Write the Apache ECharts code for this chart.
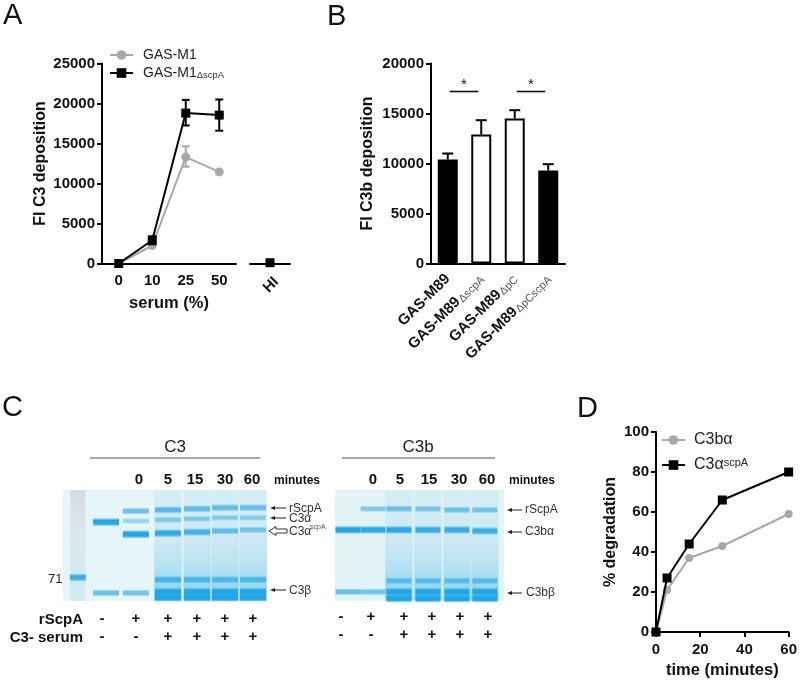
<!DOCTYPE html>
<html><head><meta charset="utf-8">
<style>html,body{margin:0;padding:0;background:#fff}#c{width:800px;height:682px}</style>
<script src="https://cdn.jsdelivr.net/npm/echarts@6/dist/echarts.min.js"></script>
</head><body><div id="c"></div>
<script>
// Panel A
const aCategories = ['0','10','25','50'];
const aHiCategories = ['HI'];
const aM1 = [0,2250,13300,11450];
const aMutant = [0,2900,18800,18550];
const aM1Err = [[2,12100,14650]];
const aMutantErr = [[1,2400,3400],[2,17250,20450],[3,16600,20500]];
const aMutantHi = [100];
const aM1Name = 'GAS-M1';
const aMutantName = 'GAS-M1ΔscpA';
// Panel B
const bStrains = [['GAS-M89',''],['GAS-M89','ΔscpA'],['GAS-M89','ΔpC'],['GAS-M89','ΔpCscpA']];
const bValues = [10400,12900,14500,9300];
const bErrTop = [11000,14330,15330,9930];
const bFilled = [true,false,false,true];
const bSig = [[0,1,17200],[2,3,17200]];
// Panel D
const dC3b = [[0,0],[5,21],[15,37],[30,43],[60,59]];
const dC3a = [[0,0],[5,27],[15,44],[30,66],[60,80]];
// Gels: [lane, migration, intensity]
const c3Marker = [[0.51,1]];
const c3MarkerBands = [[0.51,79,.85]];
const c3Smear = [[3.6,1],[4.6,1],[5.56,1],[6.52,1]];
const c3bSmear = [[2.27,1],[3.3,1],[4.33,1],[5.32,1]];
const c3Bands = [
 [1.48,29,1],[1.48,93,.6],
 [2.5,19,.6],[2.5,28,.32],[2.5,40,1],[2.5,93,.55],
 [3.6,18,.68],[3.6,27,.42],[3.6,39,.9],[3.6,81,.7],[3.6,92,1],[3.6,97,1],
 [4.6,17,.62],[4.6,26,.42],[4.6,38,.78],[4.6,81,.68],[4.6,92,1],[4.6,97,1],
 [5.56,16,.62],[5.56,25,.4],[5.56,37,.6],[5.56,81,.65],[5.56,92,1],[5.56,97,1],
 [6.52,16,.6],[6.52,25,.36],[6.52,36,.52],[6.52,81,.65],[6.52,92,1],[6.52,97,1]
];
const c3bBands = [
 [0.46,36,1],[0.46,92,.6],
 [1.35,17,.48],[1.35,36,.95],[1.35,92,.55],
 [2.27,17,.55],[2.27,36,.95],[2.27,82,.55],[2.27,92,1],[2.27,98,1],
 [3.3,17,.5],[3.3,36,.9],[3.3,82,.55],[3.3,92,1],[3.3,98,1],
 [4.33,18,.55],[4.33,36,.9],[4.33,82,.55],[4.33,92,1],[4.33,98,1],
 [5.32,18,.52],[5.32,37,.85],[5.32,82,.55],[5.32,92,1],[5.32,98,1]
];
const minuteLabels = ['0','5','15','30','60'];
const rowRScpAC3 = ['-','+','+','+','+','+'];
const rowSerumC3 = ['-','-','+','+','+','+'];

const FONT = '"Liberation Sans", Arial, sans-serif';
const GRAY = '#a8a8a8';
const tick = {fontFamily:FONT,fontWeight:'bold',fontSize:15,color:'#111'};
const nameS = {fontFamily:FONT,fontWeight:'bold',fontSize:16,color:'#111'};
const nameX = {fontFamily:FONT,fontWeight:'bold',fontSize:16.5,color:'#111'};
const aLine = {lineStyle:{color:'#000',width:2}};
const aTick = {length:5,lineStyle:{color:'#000',width:2}};
const plain = v=>String(v);

function errItem(capW, color){
  return function(p, api){
    const x = api.value(0), lo = api.coord([x, api.value(1)]), hi = api.coord([x, api.value(2)]);
    const s = {stroke:color, lineWidth:2, fill:null};
    const l = (a,b,c,d)=>({type:'line',shape:{x1:a,y1:b,x2:c,y2:d},style:s});
    return {type:'group',children:[
      l(lo[0],lo[1],hi[0],hi[1]),
      l(lo[0]-capW,hi[1],lo[0]+capW,hi[1]),
      l(lo[0]-capW,lo[1],lo[0]+capW,lo[1])
    ]};
  };
}
function errTopItem(capW){
  return function(p, api){
    const x = api.value(0), lo = api.coord([x, api.value(1)]), hi = api.coord([x, api.value(2)]);
    const s = {stroke:'#000', lineWidth:2, fill:null};
    return {type:'group',children:[
      {type:'line',shape:{x1:lo[0],y1:lo[1],x2:hi[0],y2:hi[1]},style:s},
      {type:'line',shape:{x1:lo[0]-capW,y1:hi[1],x2:lo[0]+capW,y2:hi[1]},style:s}
    ]};
  };
}
function sigItem(p, api){
  const a = api.coord([api.value(0), api.value(2)]), b = api.coord([api.value(1), api.value(2)]);
  const x1 = a[0]+2, x2 = b[0]-3;
  return {type:'group',children:[
    {type:'line',shape:{x1:x1,y1:a[1],x2:x2,y2:a[1]},style:{stroke:'#111',lineWidth:1.6}},
    {type:'text',style:{x:(x1+x2)/2,y:a[1]+1,text:'*',fontFamily:FONT,fontSize:15,fill:'#111',textAlign:'center',textVerticalAlign:'bottom'}}
  ]};
}
function makeBand(w){
  return function(p, api){
    const c = api.coord([api.value(0), api.value(1)]);
    const v = api.value(2);
    const h = 5 + v*4;
    const a = 0.12+0.83*v;
    const col = 'rgba(28,163,228,'+a+')', edge = 'rgba(28,163,228,0)';
    return {type:'rect',shape:{x:c[0]-w/2,y:c[1]-h/2,width:w,height:h},
      style:{fill:new echarts.graphic.LinearGradient(0,0,0,1,[
        {offset:0,color:edge},{offset:.3,color:col},{offset:.7,color:col},{offset:1,color:edge}])}};
  };
}
function smearItem(p, api){
  const c = api.coord([api.value(0), 0]), e = api.coord([api.value(0), 100]);
  const w = 27.5;
  return {type:'rect',shape:{x:c[0]-w/2,y:c[1],width:w,height:e[1]-c[1]},
    style:{fill:new echarts.graphic.LinearGradient(0,0,0,1,[
      {offset:0,color:'#d6edf5'},{offset:.45,color:'#cde9f4'},{offset:.7,color:'#b5e2f3'},{offset:.85,color:'#9ad8f1'},{offset:1,color:'#7cd0f0'}])}};
}
function markerLaneItem(p, api){
  const c = api.coord([api.value(0), 0]), e = api.coord([api.value(0), 100]);
  const w = 15;
  return {type:'rect',shape:{x:c[0]-w/2,y:c[1],width:w,height:e[1]-c[1]},
    style:{fill:new echarts.graphic.LinearGradient(0,0,0,1,[
      {offset:0,color:'#d6d9e6'},{offset:.4,color:'#dce8f0'},{offset:1,color:'#cfeaf3'}])}};
}
function gelAxes(i,max){
  return {
    x:{type:'value',gridIndex:i,min:0,max:max,show:false},
    y:{type:'value',gridIndex:i,min:0,max:100,inverse:true,show:false}
  };
}
const gelA = gelAxes(4,7), gelB = gelAxes(5,6);

const xAxis = [
  {type:'category',gridIndex:0,data:aCategories,axisLine:aLine,axisTick:Object.assign({alignWithLabel:true},aTick),
   axisLabel:Object.assign({margin:10},tick),name:'serum (%)',nameLocation:'middle',nameGap:31,nameTextStyle:nameX},
  {type:'category',gridIndex:1,data:aHiCategories,axisLine:aLine,axisTick:Object.assign({alignWithLabel:true},aTick),
   axisLabel:Object.assign({margin:12,rotate:45,align:'center',verticalAlign:'top',padding:[0,12,0,0]},tick)},
  {type:'category',gridIndex:2,data:bStrains.map(s=>s[0]+'|'+s[1]),axisLine:aLine,axisTick:Object.assign({alignWithLabel:true},aTick),
   axisLabel:{rotate:45,margin:13,interval:0,
     formatter:v=>{const s=v.split('|');return s[1]?'{b|'+s[0]+'}{s|'+s[1]+'}':'{b|'+s[0]+'}';},
     rich:{b:{fontFamily:FONT,fontWeight:'bold',fontSize:15,color:'#111',lineHeight:16},
           s:{fontFamily:FONT,fontSize:11,color:'#555',lineHeight:16,verticalAlign:'bottom',padding:[5,0,0,1]}}}},
  {type:'value',gridIndex:3,min:0,max:60,interval:20,axisLine:aLine,axisTick:aTick,splitLine:{show:false},
   axisLabel:Object.assign({margin:10},tick),name:'time (minutes)',nameLocation:'middle',nameGap:30,nameTextStyle:nameX},
  gelA.x, gelB.x
];
const yAxis = [
  {type:'value',gridIndex:0,min:0,max:25000,interval:5000,axisLine:Object.assign({show:true},aLine),axisTick:Object.assign({show:true},aTick),
   splitLine:{show:false},axisLabel:Object.assign({margin:7,formatter:plain},tick),name:'FI C3 deposition',nameLocation:'middle',nameGap:53,nameTextStyle:nameS},
  {type:'value',gridIndex:1,min:0,max:25000,show:false,splitLine:{show:false}},
  {type:'value',gridIndex:2,min:0,max:20000,interval:5000,axisLine:Object.assign({show:true},aLine),axisTick:Object.assign({show:true},aTick),
   splitLine:{show:false},axisLabel:Object.assign({margin:7,formatter:plain},tick),name:'FI C3b deposition',nameLocation:'middle',nameGap:55,nameTextStyle:nameS},
  {type:'value',gridIndex:3,min:0,max:100,interval:20,axisLine:Object.assign({show:true},aLine),axisTick:Object.assign({show:true},aTick),
   splitLine:{show:false},axisLabel:Object.assign({margin:7,formatter:plain},tick),name:'% degradation',nameLocation:'middle',nameGap:37,nameTextStyle:nameS},
  gelA.y, gelB.y
];
const lineSer = (name,xi,yi,data,color,sym,size,z)=>({type:'line',name,xAxisIndex:xi,yAxisIndex:yi,data,clip:false,
  symbol:sym,symbolSize:size,showSymbol:true,z:z,lineStyle:{color,width:2},itemStyle:{color,opacity:1},emphasis:{disabled:true},animation:false});

const series = [
  {type:'custom',xAxisIndex:0,yAxisIndex:0,data:aM1Err,renderItem:errItem(4,GRAY),z:2,animation:false},
  lineSer(aM1Name,0,0,aM1,GRAY,'circle',9,3),
  {type:'custom',xAxisIndex:0,yAxisIndex:0,data:aMutantErr,renderItem:errItem(4,'#000'),z:4,animation:false},
  lineSer(aMutantName,0,0,aMutant,'#000','rect',9,5),
  lineSer('HI',1,1,aMutantHi,'#000','rect',9,5),
  {type:'bar',xAxisIndex:2,yAxisIndex:2,barWidth:20,animation:false,z:2,
   data:bValues.map((v,i)=>({value:v,itemStyle:{color:bFilled[i]?'#000':'#fff',borderColor:'#000',borderWidth:2}}))},
  {type:'custom',xAxisIndex:2,yAxisIndex:2,data:bValues.map((v,i)=>[i,v,bErrTop[i]]),renderItem:errTopItem(5.5),z:1,animation:false},
  {type:'custom',xAxisIndex:2,yAxisIndex:2,data:bSig,renderItem:sigItem,encode:{x:[0,1],y:2},z:3,animation:false},
  lineSer('C3bα',3,3,dC3b,GRAY,'circle',8,3),
  lineSer('C3αscpA',3,3,dC3a,'#000','rect',9,5),
  {type:'custom',xAxisIndex:4,yAxisIndex:4,data:c3Marker,renderItem:markerLaneItem,encode:{x:0,y:1},z:1,animation:false},
  {type:'custom',xAxisIndex:4,yAxisIndex:4,data:c3Smear,renderItem:smearItem,encode:{x:0,y:1},z:1,animation:false},
  {type:'custom',xAxisIndex:4,yAxisIndex:4,data:c3MarkerBands,renderItem:makeBand(16),encode:{x:0,y:1},z:2,animation:false},
  {type:'custom',xAxisIndex:4,yAxisIndex:4,data:c3Bands,renderItem:makeBand(26),encode:{x:0,y:1},z:2,animation:false},
  {type:'custom',xAxisIndex:5,yAxisIndex:5,data:c3bSmear,renderItem:smearItem,encode:{x:0,y:1},z:1,animation:false},
  {type:'custom',xAxisIndex:5,yAxisIndex:5,data:c3bBands,renderItem:makeBand(25),encode:{x:0,y:1},z:2,animation:false}
];

// Text and annotation
const g = [];
const txt = (x,y,text,o={})=>g.push({type:'text',x,y,silent:true,style:Object.assign({text,fontFamily:FONT,fontSize:12,fill:'#333',textAlign:'left',textVerticalAlign:'middle'},o)});
const ln = (x1,y1,x2,y2,stroke='#333',w=1)=>g.push({type:'line',silent:true,shape:{x1,y1,x2,y2},style:{stroke,lineWidth:w}});
const arrow = (x1,x2,y)=>{ ln(x1+3,y,x2,y,'#222',1); g.push({type:'polygon',silent:true,shape:{points:[[x1,y],[x1+5,y-2],[x1+5,y+2]]},style:{fill:'#222'}}); };
const panel = {fontSize:29,fill:'#111'};
txt(3,16,'A',panel); txt(327,17,'B',panel); txt(2,408,'C',panel); txt(577,409,'D',panel);

const big = {fontSize:17,fill:'#222',textAlign:'center'};
txt(175,447,'C3',big); ln(90,458,260,458,'#555',1);
txt(418,447,'C3b',big); ln(342,458,495,458,'#555',1);
const minX1=[139,168,195,225,252], minX2=[373,400,429,459,487];
const num={fontWeight:'bold',fontSize:15,fill:'#111',textAlign:'center'};
minuteLabels.forEach((m,i)=>{txt(minX1[i],480,m,num);txt(minX2[i],480,m,num);});
const mins={fontWeight:'bold',fontSize:12,fill:'#111'};
txt(274,481,'minutes',mins); txt(509,481,'minutes',mins);
txt(48,579,'71',{fontSize:13,fill:'#222'});
arrow(270,286,508); txt(289,509,'rScpA');
arrow(270,286,518); txt(289,518.5,'C3α');
g.push({type:'polygon',silent:true,shape:{points:[[269,531],[276,526.5],[276,529],[287,529],[287,533],[276,533],[276,535.5]]},style:{fill:'#fff',stroke:'#333',lineWidth:1}});
txt(289,532,'C3α'); txt(310,527,'scpA',{fontSize:7,fill:'#555'});
arrow(270,286,590); txt(289,591,'C3β');
arrow(507,522,510); txt(525,510,'rScpA');
arrow(507,522,532); txt(525,532,'C3bα');
arrow(507,522,593); txt(526,593,'C3bβ');
const rowLab={fontWeight:'bold',fontSize:15,fill:'#111',textAlign:'right'};
txt(83,620,'rScpA',rowLab); txt(83,638,'C3- serum',rowLab);
const signX1=[102,136,168,197,225,253], signX2=[341,371,404,432,460,488];
const sign={fontWeight:'bold',fontSize:15,fill:'#111',textAlign:'center'};
rowRScpAC3.forEach((s,i)=>{txt(signX1[i],619,s,sign);txt(signX2[i],617,s,sign);});
rowSerumC3.forEach((s,i)=>{txt(signX1[i],637,s,sign);txt(signX2[i],635,s,sign);});

const legendA = {data:[aM1Name,aMutantName],orient:'vertical',left:104,top:43,itemWidth:23,itemHeight:12,itemGap:3,selectedMode:false,
  formatter:n=>n===aM1Name?'{a|GAS-M1}':'{a|GAS-M1}{s|ΔscpA}',
  textStyle:{rich:{a:{fontFamily:FONT,fontSize:14,color:'#222',lineHeight:14,padding:[0,0,0,5]},s:{fontFamily:FONT,fontSize:9.5,color:'#333',verticalAlign:'bottom',padding:[5,0,0,0],lineHeight:14}}}};
const legendD = {data:['C3bα','C3αscpA'],orient:'vertical',left:656,top:427,itemWidth:23,itemHeight:12,itemGap:9,selectedMode:false,
  formatter:n=>n==='C3bα'?'{a|C3bα}':'{a|C3α}{s|scpA}',
  textStyle:{rich:{a:{fontFamily:FONT,fontSize:16,color:'#222',lineHeight:16,padding:[0,0,0,4]},s:{fontFamily:FONT,fontSize:11,color:'#222',verticalAlign:'top',padding:[0,0,6,0],lineHeight:16}}}};

const chart = echarts.init(document.getElementById('c'),null,{renderer:'canvas'});
chart.setOption({
  animation:false,
  backgroundColor:'#fff',
  grid:[
    {left:102,top:63.5,width:134,height:200},
    {left:250,top:63.5,width:40,height:200},
    {left:431,top:63.5,width:134,height:200},
    {left:656,top:432,width:133,height:200},
    {left:63,top:490,width:204,height:110.7,show:true,backgroundColor:'#e6f5f7',borderWidth:0},
    {left:335,top:490,width:169,height:110.7,show:true,backgroundColor:'#e3f4f7',borderWidth:0}
  ],
  legend:[legendA,legendD],
  xAxis,yAxis,series,graphic:{elements:g}
});
</script></body></html>
